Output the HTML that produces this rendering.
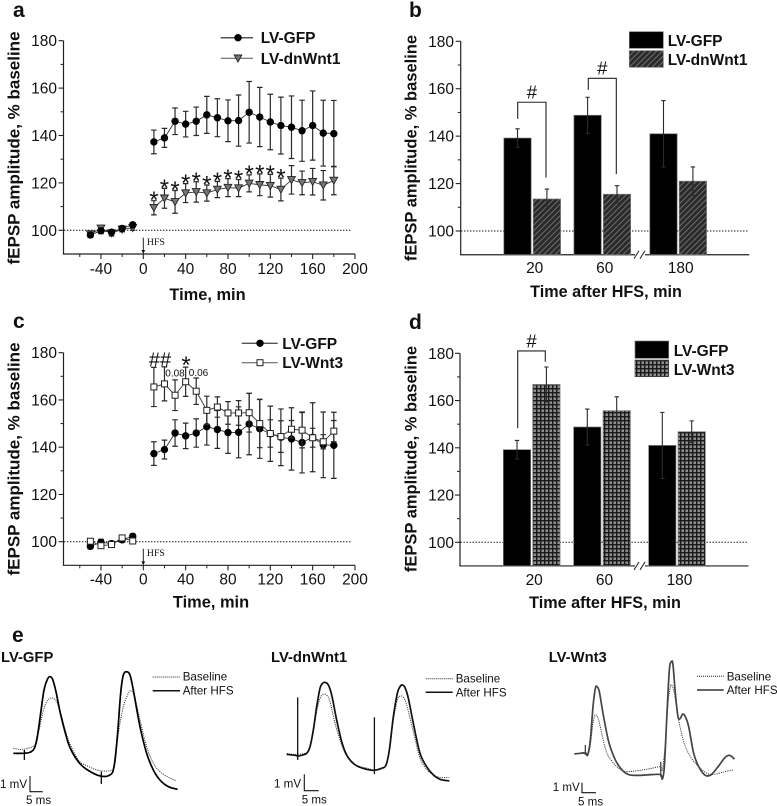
<!DOCTYPE html>
<html lang="en">
<head>
<meta charset="utf-8">
<title>fEPSP amplitude after HFS</title>
<style>
html,body{margin:0;padding:0;background:#fff}
svg{display:block;filter:blur(.3px)}
text{font-family:"Liberation Sans",sans-serif;fill:#111}
.tick{font-size:15.5px}
.ylab{font-size:17px;font-weight:bold}
.xlab{font-size:16.4px;font-weight:bold}
.leg{font-size:15.5px;font-weight:bold}
.let{font-size:21px;font-weight:bold}
.tr{font-size:14.8px;font-weight:bold}
.sm{font-size:11.6px}
.hfs{font-family:"Liberation Serif",serif;font-size:9.8px}
</style>
</head>
<body>
<svg id="fig" xmlns="http://www.w3.org/2000/svg" width="777" height="806" viewBox="0 0 777 806">
<defs>
<pattern id="hatch" patternUnits="userSpaceOnUse" width="4" height="4" patternTransform="rotate(45)">
<rect width="4" height="4" fill="#2a2a2a"/><rect x="0" width="1" height="4" fill="#6e6e6e"/>
</pattern>
<pattern id="grid" patternUnits="userSpaceOnUse" width="4" height="4">
<rect width="4" height="4" fill="#8c8c8c"/><rect width="1.4" height="4" fill="#1a1a1a"/><rect width="4" height="1.4" fill="#1a1a1a"/>
</pattern>
</defs>

<rect width="777" height="806" fill="#fff"/>

<text class="let" x="13" y="17">a</text>
<text class="let" x="409" y="17">b</text>
<text class="let" x="13" y="328">c</text>
<text class="let" x="409" y="329">d</text>
<text class="let" x="12" y="642">e</text>

<g id="panelA"></g>
<g id="panelB"></g>
<g id="panelC"></g>
<g id="panelD"></g>
<g id="panelE"></g>

<text class="ylab" transform="translate(19.5,148) rotate(-90)" text-anchor="middle">fEPSP amplitude, % baseline</text>
<text class="xlab" x="207.5" y="300" text-anchor="middle">Time, min</text>
<text class="ylab" style="font-size:16.5px" transform="translate(416.7,148) rotate(-90)" text-anchor="middle">fEPSP amplitude, % baseline</text>
<text class="xlab" style="font-size:16.2px" x="606" y="297" text-anchor="middle">Time after HFS, min</text>
<text class="ylab" transform="translate(19.5,459) rotate(-90)" text-anchor="middle">fEPSP amplitude, % baseline</text>
<text class="xlab" x="211" y="607.7" text-anchor="middle">Time, min</text>
<text class="ylab" style="font-size:16.5px" transform="translate(416.7,459) rotate(-90)" text-anchor="middle">fEPSP amplitude, % baseline</text>
<text class="xlab" style="font-size:16.2px" x="605" y="608" text-anchor="middle">Time after HFS, min</text>

<g>
<line x1="220.7" y1="37.7" x2="253" y2="37.7" stroke="#555" stroke-width="1.5"/>
<circle cx="238" cy="37.7" r="3.7" fill="#000"/>
<text class="leg" x="260.7" y="43.2">LV-GFP</text>
<line x1="220.7" y1="58.3" x2="253" y2="58.3" stroke="#555" stroke-width="1"/>
<polygon points="234.2,55 241.8,55 238,62" fill="#777" stroke="#222" stroke-width=".9"/>
<text class="leg" x="260.7" y="63.8">LV-dnWnt1</text>
</g>
<g>
<rect x="629.3" y="31.7" width="34" height="16.6" fill="#000" stroke="#777" stroke-width=".7"/>
<text class="leg" x="667.7" y="46">LV-GFP</text>
<rect x="629.3" y="50.7" width="34" height="16.6" fill="url(#hatch)" stroke="#777" stroke-width=".7"/>
<text class="leg" x="667.7" y="65">LV-dnWnt1</text>
</g>
<g>
<line x1="241.7" y1="343.3" x2="277.7" y2="343.3" stroke="#555" stroke-width="1.3"/>
<circle cx="260" cy="343.3" r="3.7" fill="#000"/>
<text class="leg" x="282.3" y="348.8">LV-GFP</text>
<line x1="241.7" y1="362.7" x2="277.7" y2="362.7" stroke="#555" stroke-width="1"/>
<rect x="257" y="359.7" width="6" height="6" fill="#fff" stroke="#222"/>
<text class="leg" x="282.3" y="368.2">LV-Wnt3</text>
</g>
<g>
<rect x="635" y="341" width="33.7" height="17.3" fill="#000" stroke="#777" stroke-width=".7"/>
<text class="leg" x="673.7" y="356">LV-GFP</text>
<rect x="635" y="360" width="33.7" height="16.7" fill="url(#grid)" stroke="#555" stroke-width=".7"/>
<text class="leg" x="673.7" y="375">LV-Wnt3</text>
</g>

<g>
<text class="tr" x="1" y="662">LV-GFP</text>
<text class="tr" x="271" y="662">LV-dnWnt1</text>
<text class="tr" x="548.7" y="662">LV-Wnt3</text>

<line x1="152.7" y1="677" x2="180" y2="677" stroke="#222" stroke-width="1" stroke-dasharray="1 1"/>
<text class="sm" x="182.7" y="680.7">Baseline</text>
<line x1="152.7" y1="690.7" x2="180" y2="690.7" stroke="#111" stroke-width="1.5"/>
<text class="sm" x="182.7" y="694.7">After HFS</text>
<path d="M30 776V791.7H42.7" fill="none" stroke="#111" stroke-width="1.1"/>
<text class="sm" x="0" y="788">1 mV</text>
<text class="sm" x="26" y="804">5 ms</text>

<line x1="425.7" y1="678.7" x2="452.7" y2="678.7" stroke="#222" stroke-width="1" stroke-dasharray="1 1"/>
<text class="sm" x="455.7" y="682.3">Baseline</text>
<line x1="425.7" y1="692.3" x2="452.7" y2="692.3" stroke="#111" stroke-width="1.5"/>
<text class="sm" x="455.7" y="696.3">After HFS</text>
<path d="M304.3 774.3V790.7H318.7" fill="none" stroke="#111" stroke-width="1.1"/>
<text class="sm" x="274" y="787.3">1 mV</text>
<text class="sm" x="301.7" y="803.7">5 ms</text>

<line x1="697" y1="676.3" x2="723.7" y2="676.3" stroke="#222" stroke-width="1" stroke-dasharray="1 1"/>
<text class="sm" x="726.7" y="680.3">Baseline</text>
<line x1="697" y1="690" x2="723.7" y2="690" stroke="#333" stroke-width="1.5"/>
<text class="sm" x="726.7" y="694">After HFS</text>
<path d="M582 782.7V792.7H596" fill="none" stroke="#111" stroke-width="1.1"/>
<text class="sm" x="552.7" y="791">1 mV</text>
<text class="sm" x="578" y="805.3">5 ms</text>
</g>
</svg>

<script>
// ---------- time-course data ----------
const baselineTimes = [-50,-40,-30,-20,-10];
const postTimes = [10,20,30,40,50,60,70,80,90,100,110,120,130,140,150,160,170,180];

const gfpBaseline = [98,99.8,99.2,100.8,102.3];
const gfpBaselineErr = [1,1.2,1,1,1];
const gfpMeans = [137.3,139,146,144.8,146,148.7,147.5,146.2,146.3,149.8,147.8,145.7,144.2,143.5,142,144.2,141,140.8];
const gfpErrors = [5,4,5.6,5.4,6,7.8,8,8.8,10.8,13,12.5,11.7,12,13.2,12.9,14.6,13.9,14];

const dnBaseline = [98.4,100.8,98.8,100.4,101];
const dnBaselineErr = [1,1.3,1.2,1,1];
const dnMeans = [109.5,113.5,112,115.7,116.2,115.7,117.2,118,117.8,119.8,119.2,118.8,117.2,121.3,120,120.5,119,121];
const dnErrors = [3,4.2,4.8,4,4.3,3.4,3.4,3.8,3.6,3.6,4.6,4.8,4.8,6,5,5.6,6.2,6];
const dnStarCount = 13;

const wnt3Baseline = [100.2,98.3,98.8,101.6,100.3];
const wnt3BaselineErr = [1,1,1,1,1];
const wnt3Means = [165.5,166.8,162,167.7,163.7,155.6,157,154.5,154.5,154.6,150,145.8,144.5,147.6,147.2,144,142.3,146.8];
const wnt3Errors = [8.3,7.2,6.5,6.2,5.6,6,4.3,4.8,5.2,8.2,10.2,5.8,6.7,3.7,7.5,4,3,4.5];

// ---------- axis labels ----------
const yTickLabels = [100,120,140,160,180];
const yMinorTicks = [110,130,150,170];
const xTickLabels = [-40,0,40,80,120,160,200];
const xMinorTicks = [-60,-20,20,60,100,140,180];

// ---------- bar data ----------
const barCategories = ['20','60','180'];
const barGfp = [139.2,148.8,141];
const barGfpErr = [3.9,7.6,14];
const barDn = [113.5,115.5,121];
const barDnErr = [4.2,3.6,6];
const barWnt3 = [166.8,155.7,146.8];
const barWnt3Err = [7.4,5.9,4.6];

// ---------- trace data (ms, mV) ----------
const gfpAfterMs = [0,3.75,6.25,7.88,9,10.25,11.5,12.75,13.75,14.75,16,17.5,19.38,21.25,24.38,27.5,32.5,36.25,37.75,39,40.25,41.25,42.5,43.75,45,47.5,50,52.5,55,58.13,61.63];
const gfpAfterMv = [0,0,.07,.33,1.11,2.67,4.22,4.93,5.11,4.93,4.11,2.78,1.44,.38,-.56,-1.07,-1.51,-1.44,-.89,1.11,4,5.22,5.44,5.22,4.22,1.78,0,-1.11,-1.78,-2.22,-2.4];
const gfpBaseMs = [0,3.75,8.13,9.38,11,12.5,14.38,16.25,18.13,20.63,24.38,27.5,32.5,36.88,38.13,39.38,41.25,43.13,44,45.25,47.5,50,52.5,55,58.13,61];
const gfpBaseMv = [.33,.27,.56,1.33,2.67,3.44,3.69,3.44,2.44,.89,-.44,-.82,-1.16,-1.11,-.67,1.33,3.11,4,4.16,3.89,2.22,.44,-.67,-1.22,-1.6,-1.82];

const dnAfterMs = [0,3.13,4.38,5.63,7.5,8.75,10,11.25,12.5,13.5,14.38,15.63,16.88,18.75,20.63,22.5,25,27.5,30,32.75,35.63,37.25,38.5,40,41.5,42.5,43.38,44.38,45.63,47.5,50,52.5,55,57.5,61];
const dnAfterMv = [-.07,-.13,-.18,-.13,0,.44,1.56,3.11,4.33,4.67,4.73,4.56,3.89,2.22,.78,-.11,-.67,-.93,-1.07,-1.13,-1,-.78,.22,2.44,4,4.44,4.56,4.38,3.67,2,0,-.89,-1.44,-1.73,-1.84];
const dnBaseMs = [0,3.13,7.5,8.75,10,11.25,12.5,13.75,15,16.25,18.13,20.63,22.5,25,27.5,30,32.75,35.63,37.25,38.5,40,41.5,42.5,43.75,45,47.5,50,52.5,55,57.5,61];
const dnBaseMv = [0,-.07,.04,.44,1.44,2.78,3.67,3.93,3.89,3.44,2,.56,-.18,-.71,-.89,-.98,-1.11,-1,-.78,.11,2.22,3.56,3.82,3.73,3.22,1.44,-.33,-1.07,-1.44,-1.6,-1.62];

const wntAfterMs = [0,2.25,4.13,5,6,7,7.88,8.5,9.38,10.75,12.88,15.38,17.88,20.38,23.5,27.25,31,32.5,33,33.75,34.75,35.63,36.38,37,37.88,38.88,39.75,40.63,41.63,42.88,44.75,46.63,48.5,50,51.63,54.13,56.25,57.88,59.13,60];
const wntAfterMv = [-.04,0,.04,-.11,.89,3.11,4.33,4.44,4.11,2.67,.78,-.44,-1.11,-1.42,-1.47,-1.44,-1.4,-1.44,-1.71,-.89,2.67,5.56,6.11,5.89,4,2.44,2.33,2.62,2.44,1.78,0,-.89,-1.38,-1.51,-1.38,-.84,-.33,-.13,-.22,-.4];
const wntBaseMs = [0,4.13,5,6,7,7.88,9.13,10.38,12.25,14.75,17.25,19.75,23.5,28.5,32.25,33,34.13,35,36,36.63,37.5,39.13,41,43.5,46.63,49.75,52.25,56,59.5];
const wntBaseMv = [-.04,0,-.07,.56,2,2.56,2.22,1.22,0,-.67,-1.07,-1.22,-1.16,-1.02,-.89,-1.11,.67,3.11,4.44,4.51,4,2.22,.78,-.22,-.89,-1.33,-1.4,-1.24,-1.11];

// stimulus artefacts: [time ms, top mV, bottom mV]
const gfpArtifacts = [[4.13,.22,-.44],[33,-1.22,-2.04]];
const dnArtifacts = [[4.13,3.73,-.44],[32.9,2.4,-1.38]];
const wntArtifacts = [[4.13,.56,-.11],[32.4,-.56,-1.56]];

// ---------- helpers ----------
const NS = 'http://www.w3.org/2000/svg';
function make(tag, parent, props, txt){
  const n = document.createElementNS(NS, tag);
  for (const k in props) n.setAttribute(k, props[k]);
  if (txt !== undefined) n.textContent = txt;
  parent.appendChild(n);
  return n;
}
function linear(d0, d1, r0, r1){
  return function(v){ return r0 + (v - d0) * (r1 - r0) / (d1 - d0); };
}

function drawYAxis(g, axisX, y, bottomVal, topVal, labelX, xEnd){
  const top = make('line', g, {x1:axisX, x2:axisX, y1:y(topVal), y2:y(bottomVal), stroke:'#222', 'stroke-width':1.2});
  
  
  const base = make('line', g, {x1:axisX-.6, x2:xEnd, y1:y(bottomVal), y2:y(bottomVal), stroke:'#222', 'stroke-width':1.2});
  
  
  yTickLabels.forEach(function(v){
    const t = make('line', g, {x1:axisX-5, x2:axisX, y1:y(v), y2:y(v), stroke:'#222', 'stroke-width':1.1});
    
    
    const l = make('text', g, {class:'tick', x:labelX, y:y(v)+5.5, 'text-anchor':'end'}, v);
    
    
  });
  yMinorTicks.forEach(function(v){
    const t = make('line', g, {x1:axisX-3, x2:axisX, y1:y(v), y2:y(v), stroke:'#222', 'stroke-width':1});
    
    
  });
}

function drawRefLine(g, x1, x2, yPos){
  const r = make('line', g, {x1:x1, x2:x2, y1:yPos, y2:yPos, stroke:'#111', 'stroke-width':1, 'stroke-dasharray':'1.4 1.6'});
  
  
}

function drawXAxisTime(g, x, yBase, labelBaseline){
  xTickLabels.forEach(function(v){
    const t = make('line', g, {x1:x(v), x2:x(v), y1:yBase, y2:yBase+5, stroke:'#222', 'stroke-width':1.1});
    
    
    const l = make('text', g, {class:'tick', x:x(v), y:labelBaseline, 'text-anchor':'middle'}, v);
    
    
  });
  xMinorTicks.forEach(function(v){
    const t = make('line', g, {x1:x(v), x2:x(v), y1:yBase, y2:yBase+3, stroke:'#222', 'stroke-width':1});
    
    
  });
}

function drawMarker(g, kind, cx, cy){
  if (kind === 'circle') return make('circle', g, {cx:cx, cy:cy, r:3.7, fill:'#000'});
  if (kind === 'triangle') return make('polygon', g, {points:(cx-3.9)+','+(cy-3.3)+' '+(cx+3.9)+','+(cy-3.3)+' '+cx+','+(cy+3.7), fill:'#777', stroke:'#222', 'stroke-width':.9});
  return make('rect', g, {x:cx-3, y:cy-3, width:6, height:6, fill:'#fff', stroke:'#222', 'stroke-width':1});
}

function drawSeries(g, x, y, times, means, errs, kind, label){
  const pts = times.map(function(t,i){ return x(t)+','+y(means[i]); }).join(' ');
  const pl = make('polyline', g, {points:pts, fill:'none', stroke:'#333', 'stroke-width':.9});
  
  
  times.forEach(function(t,i){
    const hi = y(means[i]+errs[i]), lo = y(means[i]-errs[i]), cx = x(t);
    const e = make('path', g, {d:'M'+cx+' '+hi+'V'+lo+'M'+(cx-2.8)+' '+hi+'H'+(cx+2.8)+'M'+(cx-2.8)+' '+lo+'H'+(cx+2.8), fill:'none', stroke:'#2a2a2a', 'stroke-width':1.2});
    
    
  });
  times.forEach(function(t,i){
    const m = drawMarker(g, kind, x(t), y(means[i]));
    
    
  });
}

function drawHfs(g, x, yBase, topY, textY){
  const a = make('line', g, {x1:x(0), x2:x(0), y1:topY, y2:yBase-2, stroke:'#222', 'stroke-width':1});
  
  
  const h = make('polygon', g, {points:(x(0)-1.8)+','+(yBase-4)+' '+(x(0)+1.8)+','+(yBase-4)+' '+x(0)+','+yBase, fill:'#111'});
  
  
  const t = make('text', g, {class:'hfs', x:x(0)+3.6, y:textY}, 'HFS');
  
  
}

function drawBars(g, y, baseVal, groupX, offset, values, errs, fill, label){
  const w = 27.3;
  values.forEach(function(v,i){
    const cx = groupX(i)+offset;
    const b = make('rect', g, {x:cx-w/2, y:y(v), width:w, height:y(baseVal)-y(v), fill:fill, stroke:'#777', 'stroke-width':.7});
    
    
    const hi = y(v+errs[i]), lo = y(v-errs[i]);
    const e = make('path', g, {d:'M'+cx+' '+hi+'V'+lo+'M'+(cx-2.2)+' '+hi+'H'+(cx+2.2)+'M'+(cx-2.2)+' '+lo+'H'+(cx+2.2), fill:'none', stroke:'#2a2a2a', 'stroke-width':1.1});
    
    
  });
}

function drawCategoryLabels(g, groupX, baseline){
  barCategories.forEach(function(c,i){
    const l = make('text', g, {class:'tick', x:groupX(i)+2.5, y:baseline, 'text-anchor':'middle'}, c);
    
    
  });
}

function drawBreak(g, cx, yBase){
  const w = make('rect', g, {x:cx-5, y:yBase-2, width:10, height:4, fill:'#fff'});
  
  
  const s = make('path', g, {d:'M'+(cx-6)+' '+(yBase+4)+'L'+(cx-1)+' '+(yBase-4)+'M'+(cx)+' '+(yBase+4)+'L'+(cx+5)+' '+(yBase-4), fill:'none', stroke:'#222', 'stroke-width':1});
  
  
}

function drawBracket(g, xL, xR, y, lowL, top, lowR){
  const p = make('path', g, {d:'M'+xL+' '+y(lowL)+'V'+y(top)+'H'+xR+'V'+y(lowR), fill:'none', stroke:'#222', 'stroke-width':1.1});
  
  
  const t = make('text', g, {x:(xL+xR)/2, y:y(top)-3.6, 'text-anchor':'middle', 'font-size':'18.5px'}, '#');
  
  
}

function tracePath(ms, mv, x, y){
  const P = ms.map(function(t,i){ return [x(t), y(mv[i])]; });
  let d = 'M'+P[0][0]+' '+P[0][1];
  for (let i=0;i<P.length-1;i++){
    const p0=P[Math.max(i-1,0)], p1=P[i], p2=P[i+1], p3=P[Math.min(i+2,P.length-1)];
    d += 'C'+(p1[0]+(p2[0]-p0[0])/6)+' '+(p1[1]+(p2[1]-p0[1])/6)+' '+(p2[0]-(p3[0]-p1[0])/6)+' '+(p2[1]-(p3[1]-p1[1])/6)+' '+p2[0]+' '+p2[1];
  }
  return d;
}

function drawTrace(g, ox, oy, aMs, aMv, bMs, bMv, arts, color, label){
  const x = function(t){ return ox + t*8/3; };
  const y = function(v){ return oy - v*15; };
  const b = make('path', g, {d:tracePath(bMs,bMv,x,y), fill:'none', stroke:'#333', 'stroke-width':1, 'stroke-dasharray':'1.1 1.1'});
  
  
  const a = make('path', g, {d:tracePath(aMs,aMv,x,y), fill:'none', stroke:color, 'stroke-width':1.7});
  
  
  arts.forEach(function(s){
    const l = make('line', g, {x1:x(s[0]), x2:x(s[0]), y1:y(s[1]), y2:y(s[2]), stroke:color, 'stroke-width':1.3});
    
    
  });
}

// ---------- panel a ----------
(function(){
  const g = document.getElementById('panelA');
  const x = linear(0,200,143.3,355);
  const y = linear(100,180,230.3,40.7);
  drawRefLine(g, 64, 352, y(100));
  drawYAxis(g, 63.5, y, 90, 180, 57, 355);
  drawXAxisTime(g, x, y(90), 274);
  drawHfs(g, x, y(90), 237.7, 245);
  drawSeries(g, x, y, baselineTimes, dnBaseline, dnBaselineErr, 'triangle', 'dnwnt1-baseline');
  drawSeries(g, x, y, postTimes, dnMeans, dnErrors, 'triangle', 'dnwnt1');
  drawSeries(g, x, y, baselineTimes, gfpBaseline, gfpBaselineErr, 'circle', 'gfp-baseline');
  drawSeries(g, x, y, postTimes, gfpMeans, gfpErrors, 'circle', 'gfp');
  for (let i=0;i<dnStarCount;i++){
    const s = make('text', g, {x:x(postTimes[i]), y:y(dnMeans[i]+dnErrors[i])+7.4, 'text-anchor':'middle', 'font-size':'24px'}, '*');
    
    
  }
})();

// ---------- panel b ----------
(function(){
  const g = document.getElementById('panelB');
  const y = linear(100,180,231,41.3);
  const groupX = function(i){ return 532.2 + i*70.1 + (i===2?5.8:0); };
  drawRefLine(g, 461, 748, y(100));
  drawYAxis(g, 460.7, y, 90, 180, 454, 749.3);
  drawBars(g, y, 90, groupX, -14.7, barGfp, barGfpErr, '#000', 'gfp');
  drawBars(g, y, 90, groupX, 14.7, barDn, barDnErr, 'url(#hatch)', 'dnwnt1');
  drawCategoryLabels(g, groupX, 273);
  drawBreak(g, 640, y(90));
  drawBracket(g, 517.7, 546, y, 147.3, 154.3, 122.5);
  drawBracket(g, 588.3, 616.3, y, 159.5, 164.4, 124);
})();

// ---------- panel c ----------
(function(){
  const g = document.getElementById('panelC');
  const x = linear(0,200,143.3,355);
  const y = linear(100,180,541.7,352.7);
  drawRefLine(g, 64, 352, y(100));
  drawYAxis(g, 63.5, y, 90, 180, 57, 355);
  drawXAxisTime(g, x, y(90), 584.7);
  drawHfs(g, x, y(90), 548.7, 556);
  drawSeries(g, x, y, baselineTimes, gfpBaseline, gfpBaselineErr, 'circle', 'gfp-baseline');
  drawSeries(g, x, y, postTimes, gfpMeans, gfpErrors, 'circle', 'gfp');
  drawSeries(g, x, y, baselineTimes, wnt3Baseline, wnt3BaselineErr, 'square', 'wnt3-baseline');
  drawSeries(g, x, y, postTimes, wnt3Means, wnt3Errors, 'square', 'wnt3');
  const h = make('text', g, {x:160, y:366.5, 'text-anchor':'middle', 'font-size':'20px'}, '##');
  
  
  const s = make('text', g, {x:186, y:373, 'text-anchor':'middle', 'font-size':'24px'}, '*');
  
  
  const p1 = make('text', g, {x:175, y:376.5, 'text-anchor':'middle', 'font-size':'10px'}, '0.08');
  
  
  const p2 = make('text', g, {x:198.5, y:376, 'text-anchor':'middle', 'font-size':'10px'}, '0.06');
  
  
})();

// ---------- panel d ----------
(function(){
  const g = document.getElementById('panelD');
  const y = linear(100,180,542.3,353.3);
  const groupX = function(i){ return 531.7 + i*70.3 + (i===2?4.7:0); };
  drawRefLine(g, 460.5, 747, y(100));
  drawYAxis(g, 460, y, 90, 180, 454, 748.5);
  drawBars(g, y, 90, groupX, -14.7, barGfp, barGfpErr, '#000', 'gfp');
  drawBars(g, y, 90, groupX, 14.7, barWnt3, barWnt3Err, 'url(#grid)', 'wnt3');
  drawCategoryLabels(g, groupX, 585);
  drawBreak(g, 640, y(90));
  drawBracket(g, 517.7, 545.3, y, 148.3, 181, 176.4);
})();

// ---------- panel e ----------
(function(){
  const g = document.getElementById('panelE');
  drawTrace(g, 13.33, 753.33, gfpAfterMs, gfpAfterMv, gfpBaseMs, gfpBaseMv, gfpArtifacts, '#000', 'gfp');
  drawTrace(g, 286.67, 753.33, dnAfterMs, dnAfterMv, dnBaseMs, dnBaseMv, dnArtifacts, '#111', 'dnwnt1');
  drawTrace(g, 574.33, 753.33, wntAfterMs, wntAfterMv, wntBaseMs, wntBaseMv, wntArtifacts, '#444', 'wnt3');
})();
</script>
</body>
</html>
